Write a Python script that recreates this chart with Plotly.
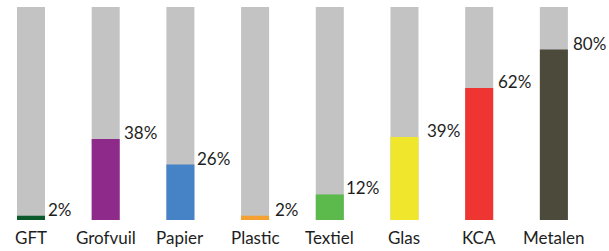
import plotly.graph_objects as go

categories = ["GFT", "Grofvuil", "Papier", "Plastic", "Textiel", "Glas", "KCA", "Metalen"]
values = [2, 38, 26, 2, 12, 39, 62, 80]
labels = ["2%", "38%", "26%", "2%", "12%", "39%", "62%", "80%"]
totals = [100] * len(categories)
colors = ["#0a5a2c", "#8e2a8a", "#4683c6", "#f5a132", "#5cb94b", "#f0e62b", "#ee3531", "#4b4a3b"]

x = list(range(len(categories)))
W = 0.375
label_gap = [1, 2, 1, 4, 0, 7, 3, 3]

fig = go.Figure()
fig.add_trace(go.Bar(x=x, y=totals, width=W, marker=dict(color="#c2c3c2", line=dict(width=0)),
                     hoverinfo="skip", showlegend=False))
fig.add_trace(go.Bar(x=x, y=values, width=W, marker=dict(color=colors, line=dict(width=0)),
                     showlegend=False))

for i, (v, t) in enumerate(zip(values, labels)):
    fig.add_annotation(x=i + W / 2, y=v, text=t, showarrow=False, xanchor="left", yanchor="bottom",
                       xshift=label_gap[i], yshift=-6, font=dict(size=17, color="#1e1e1e", family="Lato"))

for i, c in enumerate(categories):
    fig.add_annotation(x=i, y=0, text=c, showarrow=False, xanchor="center", yanchor="top",
                       yshift=-5, font=dict(size=17, color="#1e1e1e", family="Lato"))

fig.update_layout(
    width=609, height=251, barmode="overlay",
    margin=dict(l=0, r=0, t=7, b=31, autoexpand=False),
    paper_bgcolor="white", plot_bgcolor="white",
    xaxis=dict(range=[-0.415, 7.738], showticklabels=False, automargin=False,
               showgrid=False, zeroline=False, showline=False, ticks=""),
    yaxis=dict(range=[0, 100], visible=False, automargin=False),
)
fig.write_html("out.html", config={"displayModeBar": False},
               post_script="document.body.style.margin='0';document.body.style.padding='0';")
